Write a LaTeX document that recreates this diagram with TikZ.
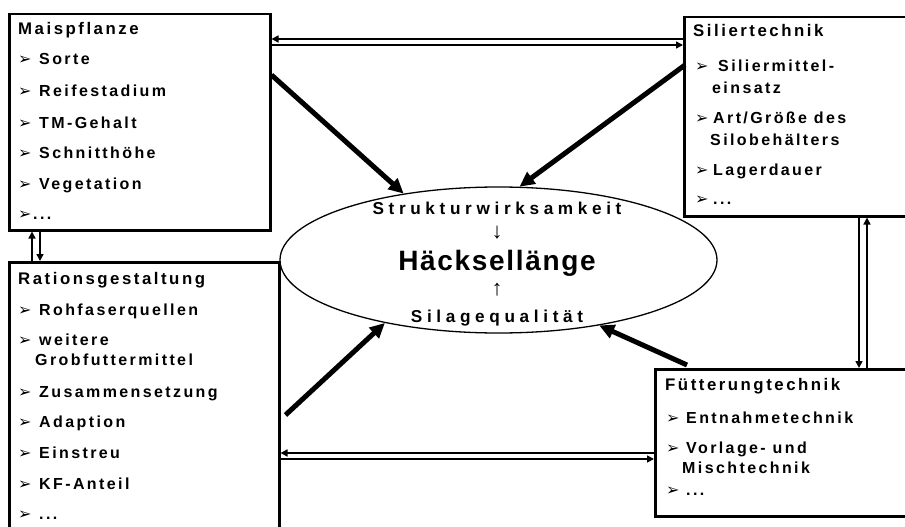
\documentclass[tikz,border=0pt]{standalone}
\usepackage{fontspec}
\setmainfont{Liberation Sans}
\newfontfamily\boxfont[LetterSpace=15]{Liberation Sans}
\newfontfamily\ellfont[LetterSpace=27]{Liberation Sans}
\newfontfamily\bigfont[LetterSpace=6]{Liberation Sans}
\newfontfamily\symfont{DejaVu Sans}
\usepackage{tikz}
\usetikzlibrary{positioning,arrows.meta,shapes.geometric}

\newcommand{\itmfont}{\boxfont\bfseries\fontsize{16}{20}\selectfont}
\newcommand{\ttlfont}{\boxfont\bfseries\fontsize{16.8}{20}\selectfont}
\newcommand{\bul}[1][21pt]{\makebox[#1][l]{\symfont\mdseries\fontsize{16}{16}\selectfont ➢}}

\begin{document}
\begin{tikzpicture}[x=1pt,y=-1pt,
          box/.style={draw,line width=2.5pt,anchor=north west,inner sep=0pt},
          ln/.style={inner sep=0pt,anchor=base west,font=\itmfont},
          ttl/.style={ln,font=\ttlfont},
          twin/.style={line width=1.5pt,-{Triangle[length=7pt,width=7pt]}},
          push/.style={line width=5pt,-{Triangle[length=15pt,width=14pt]}}
        ]
        \useasboundingbox (0,0) rectangle (905,527);
        \clip (0,0) rectangle (905,527);
        % centre
        \node[draw,ellipse,line width=1.3pt,inner sep=0pt,
              minimum width=437pt,minimum height=146pt] (hl) at (498.5,260) {};
        \node[inner sep=0pt,anchor=base,font=\ellfont\bfseries\fontsize{17.2}{20}\selectfont]
              (sw) at (497,214) {Strukturwirksamkeit};
        \node[inner sep=0pt,font=\fontsize{22}{22}\selectfont] (dn) at (497,233) {↓};
        \node[inner sep=0pt,anchor=base,font=\bigfont\bfseries\fontsize{28}{30}\selectfont]
              (hk) at (497,270) {Häcksellänge};
        \node[inner sep=0pt,font=\fontsize{22}{22}\selectfont] (up) at (497,290) {↑};
        \node[inner sep=0pt,anchor=base,font=\ellfont\bfseries\fontsize{17.2}{20}\selectfont]
              (sq) at (497,322) {Silagequalität};
        % boxes
        \node[box,minimum width=261pt,minimum height=216pt] (mais) at (8,13) {};
        \node[box,minimum width=240pt,minimum height=199pt] (silier) at (683,16) {};
        \node[box,minimum width=270pt,minimum height=290pt] (ration) at (8,261) {};
        \node[box,minimum width=270pt,minimum height=147pt] (fuetter) at (654,368) {};
        \node[ttl] (mais-0) at (18,35) {Maispflanze};
        \foreach \x/\y/\t [count=\i] in {18/65/{\bul Sorte},18/96/{\bul Reifestadium},
            18/128/{\bul TM-Gehalt},18/158/{\bul Schnitthöhe},18/189/{\bul Vegetation},
            18/219/{\bul[15pt]...}}
          \node[ln] (mais-\i) at (\x,\y) {\t};
        \node[ttl] (silier-0) at (693,37) {Siliertechnik};
        \foreach \x/\y/\t [count=\i] in {695/72/{\bul[23pt]Siliermittel-},712/93/einsatz,
            695/123/{\bul[18pt]Art/Größe des},710/145/Silobehälters,
            695/175/{\bul[18pt]Lagerdauer},695/204/{\bul[18pt]...}}
          \node[ln] (silier-\i) at (\x,\y) {\t};
        \node[ttl] (ration-0) at (18,284) {Rationsgestaltung};
        \foreach \x/\y/\t [count=\i] in {18/315/{\bul Rohfaserquellen},18/345/{\bul weitere},
            35/365/Grobfuttermittel,18/397/{\bul Zusammensetzung},18/427/{\bul Adaption},
            18/458/{\bul Einstreu},18/489/{\bul KF-Anteil},18/519/{\bul ...}}
          \node[ln] (ration-\i) at (\x,\y) {\t};
        \node[ttl] (fuetter-0) at (665,390) {Fütterungtechnik};
        \foreach \x/\y/\t [count=\i] in {666/423/{\bul[20pt]Entnahmetechnik},
            666/453/{\bul[20pt]Vorlage- und},682/473/Mischtechnik,666/495/{\bul[20pt]...}}
          \node[ln] (fuetter-\i) at (\x,\y) {\t};
        % thin double links
        \draw[twin] ([yshift=-23pt]silier.north west) -- ([yshift=-26pt]mais.north east);
        \draw[twin] ([yshift=-32pt]mais.north east) -- ([yshift=-29pt]silier.north west);
        \draw[twin] ([xshift=24pt]ration.north west) -- ([xshift=24pt]mais.south west);
        \draw[twin] ([xshift=32pt]mais.south west) -- ([xshift=32pt]ration.north west);
        \draw[twin] ([xshift=176pt]silier.south west) -- ([xshift=205pt]fuetter.north west);
        \draw[twin] ([xshift=213pt]fuetter.north west) -- ([xshift=184pt]silier.south west);
        \draw[twin] ([yshift=-85pt]fuetter.north west) -- ([yshift=-192pt]ration.north east);
        \draw[twin] ([yshift=-198pt]ration.north east) -- ([yshift=-91pt]fuetter.north west);
        % thick arrows into the ellipse
        \draw[push] ([yshift=-62pt]mais.north east) -- (hl.145);
        \draw[push] ([xshift=2pt,yshift=-49pt]silier.north west) -- (hl.74);
        \draw[push] ([xshift=5pt,yshift=-154pt]ration.north east) -- (hl.209);
        \draw[push] ([xshift=33pt,yshift=3pt]fuetter.north west) -- (hl.327);
      \end{tikzpicture}
\end{document}
